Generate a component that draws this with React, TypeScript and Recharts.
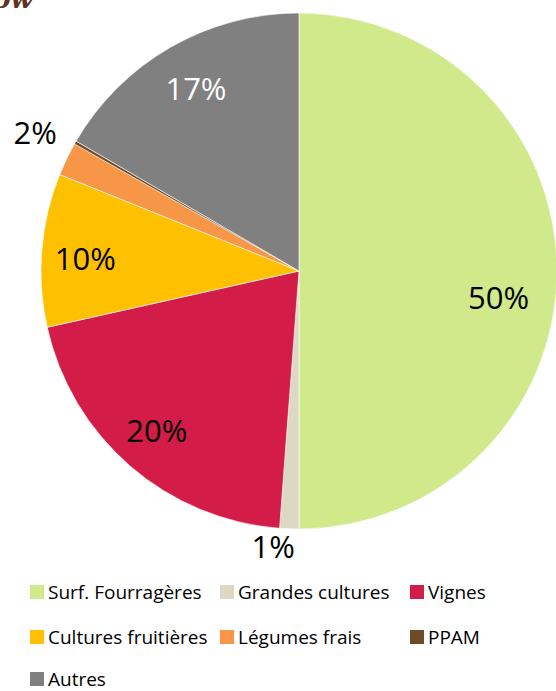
import { PieChart, Pie, Cell, Legend } from "recharts"

const categories = ["Surf. Fourragères", "Grandes cultures", "Vignes", "Cultures fruitières", "Légumes frais", "PPAM", "Autres"]
const shares = [50.0, 1.2, 20.3, 9.6, 2.1, 0.2, 16.6]
const colors = ["#cfe98b", "#ddd8c4", "#d31c47", "#ffc000", "#f79646", "#6e4a26", "#808080"]

const data = categories.map((name, i) => ({ name, value: shares[i] }))

// label placement tweaks (radius factor, angle shift in degrees) per slice, Excel "best fit" look
const labelRadius = [0.78, 1.07, 0.826, 0.83, 1.155, 0, 0.814]
const labelShift = [-7.4, -3.2, -1, 1.2, -2, 0, -0.5]
const RAD = Math.PI / 180

const renderLabel = (props: any) => {
  const { cx, cy, midAngle, outerRadius, percent, index } = props
  const pct = Math.round(percent * 100)
  if (pct < 1) return null
  const r = outerRadius * labelRadius[index]
  const a = (midAngle + labelShift[index]) * RAD
  const x = cx + r * Math.cos(a)
  const y = cy - r * Math.sin(a)
  return (
    <text
      x={x}
      y={y}
      fill={index === 6 ? "#ffffff" : "#000000"}
      textAnchor="middle"
      dominantBaseline="central"
      fontSize={31}
      fontFamily="'Open Sans', sans-serif"
    >
      {pct}%
    </text>
  )
}

const cols = [30, 220, 410]
const rows = [21, 66, 108]

const renderLegend = () => (
  <div style={{ position: "relative", width: 556, height: 118 }}>
    {categories.map((name, i) => (
      <div
        key={name}
        style={{
          position: "absolute",
          left: cols[i % 3],
          top: rows[Math.floor(i / 3)] - 10,
          height: 20,
          lineHeight: "20px",
          display: "flex",
          alignItems: "center",
          whiteSpace: "nowrap",
          fontFamily: "'Open Sans', sans-serif",
          fontSize: 19,
          color: "#000",
        }}
      >
        <span style={{ width: 14, height: 14, background: colors[i], marginRight: 4, display: "inline-block" }} />
        {name}
      </div>
    ))}
  </div>
)

export default function App() {
  return (
    <div style={{ position: "absolute", left: 0, top: 0, width: 556, height: 691, background: "#fff", overflow: "hidden" }}>
      <PieChart width={556} height={691} margin={{ top: 0, right: 0, bottom: 0, left: 0 }}>
        <Pie
          data={data}
          dataKey="value"
          nameKey="name"
          cx={299}
          cy={271}
          outerRadius={258}
          startAngle={90}
          endAngle={-270}
          stroke="#ffffff"
          strokeWidth={0.6}
          label={renderLabel}
          labelLine={false}
          isAnimationActive={false}
        >
          {data.map((d, i) => (
            <Cell key={d.name} fill={colors[i]} />
          ))}
        </Pie>
        <Legend content={renderLegend} wrapperStyle={{ position: "absolute", left: 0, top: 571, width: 556, height: 118 }} />
      </PieChart>
      <svg width={120} height={30} style={{ position: "absolute", left: 0, top: 0 }}>
        <text x={33} y={8} textAnchor="end" fontSize={26} fontStyle="italic" fontWeight="bold" fontFamily="'DejaVu Serif', serif" fill="#5b3423">
          ow
        </text>
      </svg>
    </div>
  )
}
